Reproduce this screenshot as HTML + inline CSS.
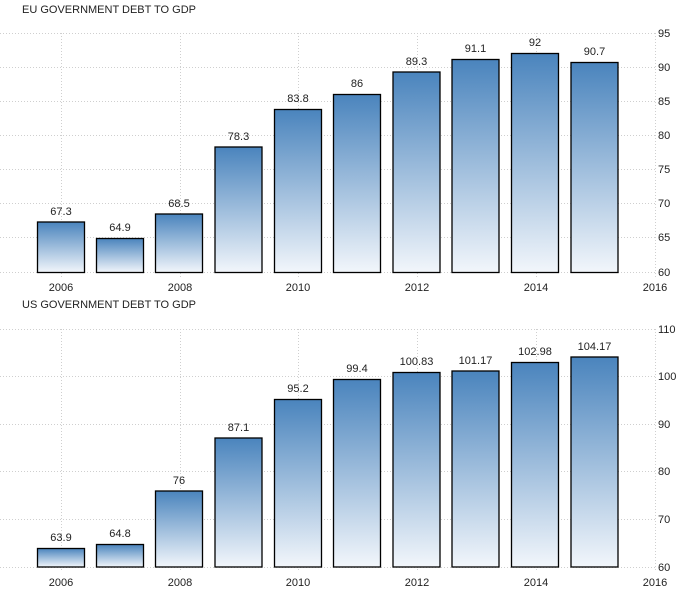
<!DOCTYPE html>
<html><head><meta charset="utf-8"><style>
html,body{margin:0;padding:0;background:#fff;}
svg{display:block;font-family:"Liberation Sans","DejaVu Sans",sans-serif;}
</style></head><body>
<svg width="691" height="600" viewBox="0 0 691 600" xmlns="http://www.w3.org/2000/svg">
<defs>
<linearGradient id="g" x1="0" y1="0" x2="0" y2="1">
<stop offset="0" stop-color="#4a84bd"/><stop offset="1" stop-color="#f2f6fb"/>
</linearGradient>
</defs>
<g stroke="#cfcfcf" stroke-width="1" stroke-dasharray="1,2" fill="none">
<!-- EU horizontal -->
<line x1="0" y1="33.5" x2="655" y2="33.5"/><line x1="0" y1="67.5" x2="655" y2="67.5"/>
<line x1="0" y1="101.5" x2="655" y2="101.5"/><line x1="0" y1="135.5" x2="655" y2="135.5"/>
<line x1="0" y1="169.5" x2="655" y2="169.5"/><line x1="0" y1="203.5" x2="655" y2="203.5"/>
<line x1="0" y1="237.5" x2="655" y2="237.5"/><line x1="0" y1="272.5" x2="655" y2="272.5"/>
<!-- EU vertical -->
<line x1="61.5" y1="33" x2="61.5" y2="277"/><line x1="180.5" y1="33" x2="180.5" y2="277"/>
<line x1="298.5" y1="33" x2="298.5" y2="277"/><line x1="417.5" y1="33" x2="417.5" y2="277"/>
<line x1="536.5" y1="33" x2="536.5" y2="277"/><line x1="655.5" y1="33" x2="655.5" y2="277"/>
<!-- US horizontal -->
<line x1="0" y1="329.5" x2="655" y2="329.5"/><line x1="0" y1="376.5" x2="655" y2="376.5"/>
<line x1="0" y1="424.5" x2="655" y2="424.5"/><line x1="0" y1="471.5" x2="655" y2="471.5"/>
<line x1="0" y1="519.5" x2="655" y2="519.5"/><line x1="0" y1="567.5" x2="655" y2="567.5"/>
<line x1="61.5" y1="329" x2="61.5" y2="572"/><line x1="180.5" y1="329" x2="180.5" y2="572"/>
<line x1="298.5" y1="329" x2="298.5" y2="572"/><line x1="417.5" y1="329" x2="417.5" y2="572"/>
<line x1="536.5" y1="329" x2="536.5" y2="572"/><line x1="655.5" y1="329" x2="655.5" y2="572"/>
</g>
<g fill="url(#g)" stroke="#000" stroke-width="1.3">
<rect x="37.5" y="222" width="47" height="50.5"/>
<rect x="96.5" y="238.5" width="47" height="34"/>
<rect x="155.5" y="214" width="47" height="58.5"/>
<rect x="215" y="147" width="47" height="125.5"/>
<rect x="274.5" y="109.5" width="47" height="163"/>
<rect x="333.5" y="94.5" width="47" height="178"/>
<rect x="393" y="72" width="47" height="200.5"/>
<rect x="452" y="59.5" width="47" height="213"/>
<rect x="511.5" y="53.5" width="47" height="219"/>
<rect x="571" y="62.5" width="47" height="210"/>

<rect x="37.5" y="548.5" width="47" height="18.5"/>
<rect x="96.5" y="544.5" width="47" height="22.5"/>
<rect x="155.5" y="491" width="47" height="76"/>
<rect x="215" y="438" width="47" height="129"/>
<rect x="274.5" y="399.5" width="47" height="167.5"/>
<rect x="333.5" y="379.5" width="47" height="187.5"/>
<rect x="393" y="372.5" width="47" height="194.5"/>
<rect x="452" y="371" width="47" height="196"/>
<rect x="511.5" y="362.5" width="47" height="204.5"/>
<rect x="571" y="357" width="47" height="210"/>
</g>
<g font-size="11" fill="#222" text-anchor="middle">
<text x="61" y="215">67.3</text><text x="120" y="231">64.9</text><text x="179" y="207">68.5</text>
<text x="238.5" y="140">78.3</text><text x="298" y="102">83.8</text><text x="357" y="87">86</text>
<text x="416.5" y="65">89.3</text><text x="475.5" y="52">91.1</text><text x="535" y="46">92</text>
<text x="594.5" y="55">90.7</text>
<text x="61" y="541">63.9</text><text x="120" y="537">64.8</text><text x="179" y="484">76</text>
<text x="238.5" y="431">87.1</text><text x="298" y="392">95.2</text><text x="357" y="372">99.4</text>
<text x="416.5" y="365">100.83</text><text x="475.5" y="364">101.17</text><text x="535" y="355">102.98</text>
<text x="594.5" y="350">104.17</text>
<text x="61" y="291">2006</text><text x="180" y="291">2008</text><text x="298" y="291">2010</text>
<text x="417" y="291">2012</text><text x="536" y="291">2014</text><text x="655" y="291">2016</text>
<text x="61" y="586">2006</text><text x="180" y="586">2008</text><text x="298" y="586">2010</text>
<text x="417" y="586">2012</text><text x="536" y="586">2014</text><text x="655" y="586">2016</text>
</g>
<g font-size="11" fill="#222">
<text x="658" y="37">95</text><text x="658" y="71">90</text><text x="658" y="105">85</text>
<text x="658" y="139">80</text><text x="658" y="173">75</text><text x="658" y="207">70</text>
<text x="658" y="241">65</text><text x="658" y="276">60</text>
<text x="658" y="333">110</text><text x="658" y="380">100</text><text x="658" y="428">90</text>
<text x="658" y="475">80</text><text x="658" y="523">70</text><text x="658" y="571">60</text>
<text x="22" y="13">EU GOVERNMENT DEBT TO GDP</text>
<text x="22" y="308">US GOVERNMENT DEBT TO GDP</text>
</g>
</svg>
</body></html>
